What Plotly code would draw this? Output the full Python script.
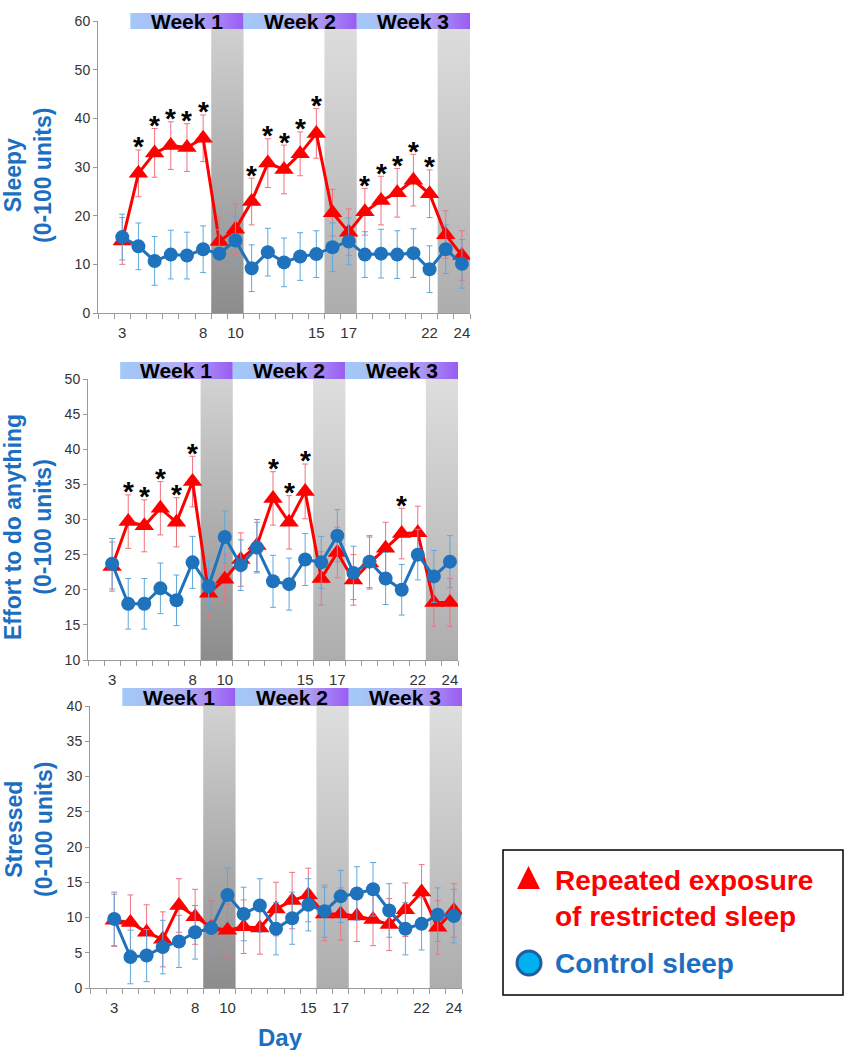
import plotly.graph_objects as go

# ---------------- data ----------------
days = list(range(3, 25))
tick_days = [3, 8, 10, 15, 17, 22, 24]
weekends = [(9, 10), (16, 17), (23, 24)]
weeks = ["Week 1", "Week 2", "Week 3"]
week_first_day = [4, 11, 18]
week_last_day = [10, 17, 24]

sleepy_restricted = [14.8, 28.7, 32.9, 34.4, 34.0, 35.9, 14.7, 17.2, 22.9, 30.8, 29.5,
                     32.7, 36.9, 20.6, 16.6, 20.8, 23.1, 24.7, 27.3, 24.5, 16.1, 11.8]
sleepy_restricted_err = [4.8, 4.8, 5.0, 4.9, 4.9, 4.8, 5.0, 5.2, 4.8, 5.0, 5.0,
                         4.5, 5.1, 4.8, 4.8, 4.8, 5.0, 5.0, 5.3, 4.9, 4.9, 5.1]
sleepy_control = [15.6, 13.7, 10.7, 12.0, 11.8, 13.1, 12.2, 14.9, 9.2, 12.5, 10.4,
                  11.6, 12.1, 13.5, 14.7, 12.0, 12.2, 12.0, 12.3, 9.0, 13.1, 10.1]
sleepy_control_err = [4.7, 4.8, 5.0, 5.0, 4.8, 4.8, 4.9, 5.0, 4.8, 4.9, 5.0,
                      4.9, 4.8, 5.0, 4.8, 4.7, 5.0, 4.9, 5.0, 4.8, 5.0, 5.0]
sleepy_sig_days = [4, 5, 6, 7, 8, 11, 12, 13, 14, 15, 18, 19, 20, 21, 22]

effort_restricted = [23.3, 29.7, 29.1, 31.6, 29.6, 35.4, 19.5, 21.5, 24.3, 26.3, 33.0,
                     29.6, 34.0, 21.6, 25.3, 21.4, 23.8, 25.9, 28.0, 28.1, 18.2, 18.2]
effort_restricted_err = [3.5, 3.8, 3.7, 3.8, 3.5, 3.6, 3.5, 3.5, 3.8, 3.7, 3.8,
                         3.8, 3.9, 3.8, 3.6, 3.6, 3.7, 3.7, 3.6, 3.8, 3.4, 3.4]
effort_control = [23.7, 18.0, 18.0, 20.2, 18.5, 23.9, 20.5, 27.5, 23.5, 26.0, 21.2,
                  20.8, 24.3, 23.9, 27.7, 22.4, 24.0, 21.6, 20.0, 25.0, 21.9, 24.0]
effort_control_err = [3.6, 3.6, 3.6, 3.6, 3.6, 3.7, 3.6, 3.7, 3.6, 3.6, 3.7,
                      3.7, 3.7, 3.7, 3.7, 3.8, 3.7, 3.7, 3.6, 3.6, 3.7, 3.7]
effort_sig_days = [4, 5, 6, 7, 8, 13, 14, 15, 21]

stressed_restricted = [9.6, 9.3, 7.9, 6.9, 11.7, 10.1, 8.6, 8.2, 8.7, 8.5, 11.2,
                       12.4, 13.2, 10.5, 10.5, 10.2, 9.7, 9.0, 11.1, 13.6, 8.6, 11.0]
stressed_restricted_err = [3.7, 3.9, 3.9, 3.9, 3.8, 3.9, 3.8, 3.7, 3.8, 3.7, 3.8,
                           4.0, 3.8, 3.8, 3.7, 3.6, 3.7, 3.7, 3.8, 3.9, 3.8, 3.8]
stressed_control = [9.8, 4.4, 4.6, 5.8, 6.6, 7.9, 8.5, 13.2, 10.5, 11.7, 8.4,
                    9.9, 11.8, 10.9, 13.0, 13.4, 14.0, 11.0, 8.4, 9.1, 10.4, 10.2]
stressed_control_err = [3.8, 3.8, 3.7, 3.8, 3.7, 3.8, 3.8, 3.8, 3.8, 3.8, 3.7,
                        3.7, 3.7, 3.7, 3.7, 3.8, 3.8, 3.8, 3.7, 3.7, 3.8, 3.8]
stressed_sig_days = []

panels = [
    dict(title="Sleepy<br>(0-100 units)", rng=(0, 60), dtick=10,
         r=sleepy_restricted, re=sleepy_restricted_err,
         c=sleepy_control, ce=sleepy_control_err, sig=sleepy_sig_days),
    dict(title="Effort to do anything<br>(0-100 units)", rng=(10, 50), dtick=5,
         r=effort_restricted, re=effort_restricted_err,
         c=effort_control, ce=effort_control_err, sig=effort_sig_days),
    dict(title="Stressed<br>(0-100 units)", rng=(0, 40), dtick=5,
         r=stressed_restricted, re=stressed_restricted_err,
         c=stressed_control, ce=stressed_control_err, sig=stressed_sig_days),
]

# ---------------- layout geometry (pixels) ----------------
W, H = 849, 1050
FONT = "Liberation Sans, Arial, sans-serif"
RED = "#FF0000"
RED_ERR = "#EE7380"
BLUE = "#1F72BC"
BLUE_ERR = "#5EA8DC"
TITLE_BLUE = "#1C6FC0"

geo = [
    dict(x=(98, 470), y=(21, 313), bar=(13, 29), tcx=28, tcy=176),
    dict(x=(88, 458), y=(379, 660), bar=(362, 379), tcx=28, tcy=527),
    dict(x=(90, 462), y=(706, 988), bar=(688, 706), tcx=29, tcy=830),
]


def px(xp):
    return xp / W


def py(yp):
    return 1 - yp / H


fig = go.Figure()
annotations = []
shapes = []
XR = [1.5, 24.5]

for i, (p, g) in enumerate(zip(panels, geo)):
    n = i + 1
    xa = "x" if n == 1 else f"x{n}"
    ya = "y" if n == 1 else f"y{n}"
    bxa, bya = f"x{n + 3}", f"y{n + 3}"
    lo, hi = p["rng"]

    for k, (a, b) in enumerate(weekends):
        bottom = "#8c8c8c" if k == 0 else "#adadad"
        top = "#d2d2d2" if k == 0 else "#dedede"
        fig.add_trace(go.Scatter(
            x=[a - 0.5, b + 0.5, b + 0.5, a - 0.5, a - 0.5],
            y=[lo, lo, hi, hi, lo], xaxis=xa, yaxis=ya,
            mode="lines", fill="toself", line=dict(width=0, color="rgba(0,0,0,0)"),
            fillgradient=dict(type="vertical", colorscale=[[0, bottom], [1, top]]),
            hoverinfo="skip", showlegend=False))

    fig.add_trace(go.Scatter(
        x=days, y=p["r"], xaxis=xa, yaxis=ya, mode="lines+markers",
        line=dict(color=RED, width=3),
        marker=dict(symbol="triangle-up", size=17, color=RED),
        error_y=dict(type="data", array=p["re"], color=RED_ERR, thickness=1, width=3),
        name="Repeated exposure of restricted sleep", showlegend=False))
    fig.add_trace(go.Scatter(
        x=days, y=p["c"], xaxis=xa, yaxis=ya, mode="lines+markers",
        line=dict(color=BLUE, width=3),
        marker=dict(symbol="circle", size=14, color=BLUE),
        error_y=dict(type="data", array=p["ce"], color=BLUE_ERR, thickness=1, width=3),
        name="Control sleep", showlegend=False))

    for d in p["sig"]:
        j = days.index(d)
        annotations.append(dict(
            x=d, y=p["r"][j] + p["re"][j], xref=xa, yref=ya, text="<b>*</b>",
            showarrow=False, yanchor="middle", yshift=3,
            font=dict(size=28, color="black", family=FONT)))

    for wk, a, b in zip(weeks, week_first_day, week_last_day):
        fig.add_trace(go.Scatter(
            x=[a - 0.5, b + 0.5, b + 0.5, a - 0.5, a - 0.5], y=[0, 0, 1, 1, 0],
            xaxis=bxa, yaxis=bya, mode="lines", fill="toself",
            line=dict(width=0, color="rgba(0,0,0,0)"),
            fillgradient=dict(type="horizontal",
                              colorscale=[[0, "#A2CAF8"], [0.55, "#B2AEF3"], [1, "#995CF2"]]),
            hoverinfo="skip", showlegend=False))
        annotations.append(dict(
            x=(a - 0.5 + b + 0.5) / 2, y=0.5, xref=bxa, yref=bya, text=f"<b>{wk}</b>",
            showarrow=False, font=dict(size=21, color="black", family=FONT)))

    xd = [px(g["x"][0]), px(g["x"][1])]
    yd = [py(g["y"][1]), py(g["y"][0])]
    axis_common = dict(showgrid=False, zeroline=False, showline=True,
                       linecolor="#9a9a9a", linewidth=1, automargin=False)
    fig.update_layout(**{
        ("xaxis" if n == 1 else f"xaxis{n}"): dict(
            domain=xd, range=XR, anchor=ya, tickmode="array", tickvals=tick_days,
            ticks="outside", ticklen=6, tickcolor="rgba(0,0,0,0)",
            tickfont=dict(size=15, color="#333333", family=FONT),
            minor=dict(tickmode="linear", tick0=1.5, dtick=1, ticks="outside",
                       ticklen=5, tickcolor="#9a9a9a"),
            **axis_common),
        ("yaxis" if n == 1 else f"yaxis{n}"): dict(
            domain=yd, range=[lo, hi], anchor=xa, tickmode="linear", tick0=lo,
            dtick=p["dtick"], ticks="outside", ticklen=4, tickcolor="#9a9a9a",
            tickfont=dict(size=14, color="#333333", family=FONT),
            **axis_common),
        f"xaxis{n + 3}": dict(domain=xd, range=XR, anchor=bya, visible=False,
                              automargin=False),
        f"yaxis{n + 3}": dict(domain=[py(g["bar"][1]), py(g["bar"][0])], range=[0, 1],
                              anchor=bxa, visible=False, automargin=False),
    })

    annotations.append(dict(
        x=px(g["tcx"]), y=py(g["tcy"]), xref="paper", yref="paper",
        text=f"<b>{p['title']}</b>", textangle=-90, showarrow=False,
        xanchor="center", yanchor="middle",
        font=dict(size=23, color=TITLE_BLUE, family=FONT)))

annotations.append(dict(
    x=px(280), y=py(1037), xref="paper", yref="paper", text="<b>Day</b>",
    showarrow=False, xanchor="center", yanchor="middle",
    font=dict(size=24, color=TITLE_BLUE, family=FONT)))

# legend box
shapes.append(dict(type="rect", xref="paper", yref="paper",
                   x0=px(503), x1=px(843), y0=py(995), y1=py(850),
                   line=dict(color="black", width=1.5), fillcolor="white", layer="above"))
shapes.append(dict(type="path", xref="paper", yref="paper",
                   path=f"M {px(517)} {py(889)} L {px(540)} {py(889)} L {px(528.5)} {py(866)} Z",
                   fillcolor=RED, line=dict(width=0), layer="above"))
shapes.append(dict(type="circle", xref="paper", yref="paper",
                   x0=px(517), x1=px(541), y0=py(975), y1=py(951),
                   fillcolor="#00B0F0", line=dict(color="#1F5FA0", width=3), layer="above"))
annotations.append(dict(
    x=px(553), y=py(898), xref="paper", yref="paper",
    text="<b>Repeated exposure<br>of restricted sleep</b>", align="left",
    showarrow=False, xanchor="left", yanchor="middle",
    font=dict(size=28, color=RED, family=FONT)))
annotations.append(dict(
    x=px(553), y=py(963), xref="paper", yref="paper",
    text="<b>Control sleep</b>", align="left",
    showarrow=False, xanchor="left", yanchor="middle",
    font=dict(size=28, color=TITLE_BLUE, family=FONT)))

fig.update_layout(
    width=W, height=H, margin=dict(l=0, r=0, t=0, b=0, autoexpand=False),
    paper_bgcolor="white", plot_bgcolor="rgba(0,0,0,0)",
    showlegend=False, font=dict(family=FONT),
    annotations=annotations, shapes=shapes,
)

fig.write_html(
    "out.html",
    config={"displayModeBar": False, "staticPlot": True},
    post_script="document.body.style.margin='0';document.body.style.overflow='hidden';",
)
